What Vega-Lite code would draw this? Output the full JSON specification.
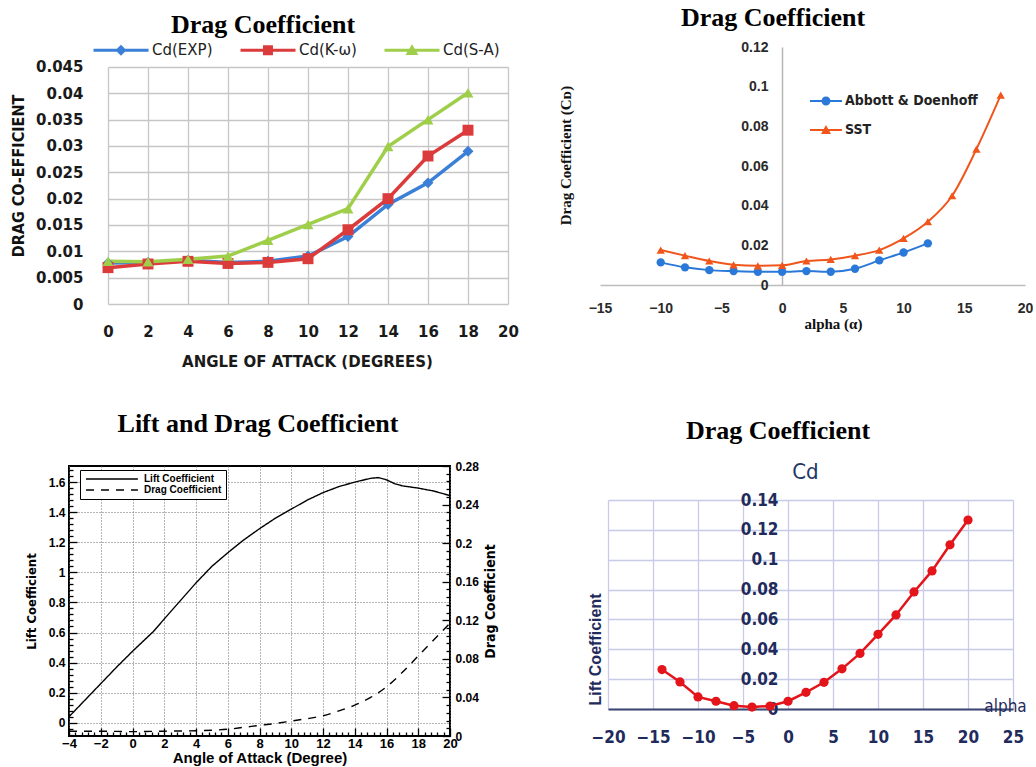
{
  "$schema": "https://vega.github.io/schema/vega-lite/v6.json",
  "background": "white",
  "padding": {"left": 10, "top": 5, "right": 0, "bottom": 0},
  "config": {"view": {"stroke": null}, "axis": {"labelOverlap": false, "labelFlush": false}},
  "datasets": {
    "tl": [
      {"series": "Cd(EXP)", "aoa": 0, "cd": 0.0078}, {"series": "Cd(EXP)", "aoa": 2, "cd": 0.0079}, {"series": "Cd(EXP)", "aoa": 4, "cd": 0.0083}, {"series": "Cd(EXP)", "aoa": 6, "cd": 0.0079}, {"series": "Cd(EXP)", "aoa": 8, "cd": 0.0081}, {"series": "Cd(EXP)", "aoa": 10, "cd": 0.0091}, {"series": "Cd(EXP)", "aoa": 12, "cd": 0.0128}, {"series": "Cd(EXP)", "aoa": 14, "cd": 0.0189}, {"series": "Cd(EXP)", "aoa": 16, "cd": 0.023}, {"series": "Cd(EXP)", "aoa": 18, "cd": 0.029},
      {"series": "Cd(K-ω)", "aoa": 0, "cd": 0.0069}, {"series": "Cd(K-ω)", "aoa": 2, "cd": 0.0076}, {"series": "Cd(K-ω)", "aoa": 4, "cd": 0.0081}, {"series": "Cd(K-ω)", "aoa": 6, "cd": 0.0077}, {"series": "Cd(K-ω)", "aoa": 8, "cd": 0.0079}, {"series": "Cd(K-ω)", "aoa": 10, "cd": 0.0086}, {"series": "Cd(K-ω)", "aoa": 12, "cd": 0.0141}, {"series": "Cd(K-ω)", "aoa": 14, "cd": 0.02}, {"series": "Cd(K-ω)", "aoa": 16, "cd": 0.0281}, {"series": "Cd(K-ω)", "aoa": 18, "cd": 0.033},
      {"series": "Cd(S-A)", "aoa": 0, "cd": 0.0081}, {"series": "Cd(S-A)", "aoa": 2, "cd": 0.008}, {"series": "Cd(S-A)", "aoa": 4, "cd": 0.0085}, {"series": "Cd(S-A)", "aoa": 6, "cd": 0.0091}, {"series": "Cd(S-A)", "aoa": 8, "cd": 0.0121}, {"series": "Cd(S-A)", "aoa": 10, "cd": 0.0151}, {"series": "Cd(S-A)", "aoa": 12, "cd": 0.0181}, {"series": "Cd(S-A)", "aoa": 14, "cd": 0.0299}, {"series": "Cd(S-A)", "aoa": 16, "cd": 0.035}, {"series": "Cd(S-A)", "aoa": 18, "cd": 0.0401}
    ],
    "tr": [
      {"series": "Abbott & Doenhoff", "alpha": -10, "cd": 0.0114}, {"series": "Abbott & Doenhoff", "alpha": -8, "cd": 0.0089}, {"series": "Abbott & Doenhoff", "alpha": -6, "cd": 0.0075}, {"series": "Abbott & Doenhoff", "alpha": -4, "cd": 0.007}, {"series": "Abbott & Doenhoff", "alpha": -2, "cd": 0.0067}, {"series": "Abbott & Doenhoff", "alpha": 0, "cd": 0.0067}, {"series": "Abbott & Doenhoff", "alpha": 2, "cd": 0.007}, {"series": "Abbott & Doenhoff", "alpha": 4, "cd": 0.0067}, {"series": "Abbott & Doenhoff", "alpha": 6, "cd": 0.0082}, {"series": "Abbott & Doenhoff", "alpha": 8, "cd": 0.0124}, {"series": "Abbott & Doenhoff", "alpha": 10, "cd": 0.0164}, {"series": "Abbott & Doenhoff", "alpha": 12, "cd": 0.021},
      {"series": "SST", "alpha": -10, "cd": 0.0176}, {"series": "SST", "alpha": -8, "cd": 0.0148}, {"series": "SST", "alpha": -6, "cd": 0.0121}, {"series": "SST", "alpha": -4, "cd": 0.0102}, {"series": "SST", "alpha": -2, "cd": 0.0097}, {"series": "SST", "alpha": 0, "cd": 0.0099}, {"series": "SST", "alpha": 2, "cd": 0.0121}, {"series": "SST", "alpha": 4, "cd": 0.0129}, {"series": "SST", "alpha": 6, "cd": 0.0148}, {"series": "SST", "alpha": 8, "cd": 0.0176}, {"series": "SST", "alpha": 10, "cd": 0.0235}, {"series": "SST", "alpha": 12, "cd": 0.0319}, {"series": "SST", "alpha": 14, "cd": 0.045}, {"series": "SST", "alpha": 16, "cd": 0.0685}, {"series": "SST", "alpha": 18, "cd": 0.0957}
    ],
    "bl_lift": [
      {"series": "Lift Coefficient", "aoa": -4, "cl": 0.04}, {"series": "Lift Coefficient", "aoa": -3, "cl": 0.15}, {"series": "Lift Coefficient", "aoa": -2, "cl": 0.26}, {"series": "Lift Coefficient", "aoa": -1, "cl": 0.37}, {"series": "Lift Coefficient", "aoa": 0, "cl": 0.475}, {"series": "Lift Coefficient", "aoa": 1, "cl": 0.575}, {"series": "Lift Coefficient", "aoa": 1.3, "cl": 0.605}, {"series": "Lift Coefficient", "aoa": 2, "cl": 0.69}, {"series": "Lift Coefficient", "aoa": 3, "cl": 0.81}, {"series": "Lift Coefficient", "aoa": 4, "cl": 0.93}, {"series": "Lift Coefficient", "aoa": 5, "cl": 1.04}, {"series": "Lift Coefficient", "aoa": 6, "cl": 1.13}, {"series": "Lift Coefficient", "aoa": 7, "cl": 1.215}, {"series": "Lift Coefficient", "aoa": 8, "cl": 1.29}, {"series": "Lift Coefficient", "aoa": 9, "cl": 1.36}, {"series": "Lift Coefficient", "aoa": 10, "cl": 1.42}, {"series": "Lift Coefficient", "aoa": 11, "cl": 1.48}, {"series": "Lift Coefficient", "aoa": 12, "cl": 1.53}, {"series": "Lift Coefficient", "aoa": 13, "cl": 1.57}, {"series": "Lift Coefficient", "aoa": 14, "cl": 1.6}, {"series": "Lift Coefficient", "aoa": 15, "cl": 1.625}, {"series": "Lift Coefficient", "aoa": 15.5, "cl": 1.63}, {"series": "Lift Coefficient", "aoa": 16, "cl": 1.615}, {"series": "Lift Coefficient", "aoa": 16.5, "cl": 1.59}, {"series": "Lift Coefficient", "aoa": 17, "cl": 1.575}, {"series": "Lift Coefficient", "aoa": 18, "cl": 1.56}, {"series": "Lift Coefficient", "aoa": 19, "cl": 1.54}, {"series": "Lift Coefficient", "aoa": 20, "cl": 1.51}
    ],
    "bl_drag": [
      {"series": "Drag Coefficient", "aoa": -4, "cd": 0.005}, {"series": "Drag Coefficient", "aoa": -2, "cd": 0.005}, {"series": "Drag Coefficient", "aoa": 0, "cd": 0.0045}, {"series": "Drag Coefficient", "aoa": 2, "cd": 0.005}, {"series": "Drag Coefficient", "aoa": 4, "cd": 0.0055}, {"series": "Drag Coefficient", "aoa": 6, "cd": 0.007}, {"series": "Drag Coefficient", "aoa": 7, "cd": 0.009}, {"series": "Drag Coefficient", "aoa": 8, "cd": 0.011}, {"series": "Drag Coefficient", "aoa": 9, "cd": 0.013}, {"series": "Drag Coefficient", "aoa": 10, "cd": 0.0155}, {"series": "Drag Coefficient", "aoa": 11, "cd": 0.018}, {"series": "Drag Coefficient", "aoa": 12, "cd": 0.021}, {"series": "Drag Coefficient", "aoa": 13, "cd": 0.026}, {"series": "Drag Coefficient", "aoa": 14, "cd": 0.032}, {"series": "Drag Coefficient", "aoa": 15, "cd": 0.04}, {"series": "Drag Coefficient", "aoa": 16, "cd": 0.051}, {"series": "Drag Coefficient", "aoa": 17, "cd": 0.066}, {"series": "Drag Coefficient", "aoa": 18, "cd": 0.083}, {"series": "Drag Coefficient", "aoa": 19, "cd": 0.1}, {"series": "Drag Coefficient", "aoa": 20, "cd": 0.117}
    ],
    "br": [
      {"alpha": -14, "cd": 0.0264}, {"alpha": -12, "cd": 0.0181}, {"alpha": -10, "cd": 0.0081}, {"alpha": -8, "cd": 0.0052}, {"alpha": -6, "cd": 0.0022}, {"alpha": -4, "cd": 0.0013}, {"alpha": -2, "cd": 0.002}, {"alpha": 0, "cd": 0.0052}, {"alpha": 2, "cd": 0.0112}, {"alpha": 4, "cd": 0.0179}, {"alpha": 6, "cd": 0.0269}, {"alpha": 8, "cd": 0.0372}, {"alpha": 10, "cd": 0.05}, {"alpha": 12, "cd": 0.063}, {"alpha": 14, "cd": 0.0784}, {"alpha": 16, "cd": 0.0925}, {"alpha": 18, "cd": 0.11}, {"alpha": 20, "cd": 0.1266}
    ]
  },
  "resolve": {"scale": {"color": "independent", "fill": "independent", "stroke": "independent", "shape": "independent", "strokeDash": "independent"}},
  "vconcat": [
    {
      "resolve": {"scale": {"color": "independent", "fill": "independent", "stroke": "independent", "shape": "independent", "strokeDash": "independent"}},
      "spacing": 39,
      "hconcat": [
        {
          "width": 439, "height": 257,
          "title": {"text": "Drag Coefficient", "font": "Liberation Serif", "fontSize": 26, "fontWeight": "bold", "color": "#000", "anchor": "middle", "frame": "group", "dx": -25.5, "offset": 4.5},
          "data": {"name": "tl"},
          "encoding": {
            "x": {"field": "aoa", "type": "quantitative", "title": "ANGLE OF ATTACK (DEGREES)", "scale": {"domain": [-1.95, 20], "nice": false, "zero": false},
              "axis": {"values": [0, 2, 4, 6, 8, 10, 12, 14, 16, 18, 20], "grid": false, "domain": false, "ticks": true, "tickSize": -237, "tickColor": "#c6c6c6", "tickWidth": 1.3, "labelPadding": 257, "labelFont": "DejaVu Sans", "labelFontSize": 15, "labelFontWeight": "bold", "labelColor": "#1a1a1a", "labelFlush": false, "labelOverlap": false, "titleFont": "DejaVu Sans", "titleFontSize": 15, "titleFontWeight": "bold", "titleColor": "#1a1a1a", "titleX": 238, "titleY": 50, "titleAlign": "center", "titleBaseline": "top"}},
            "y": {"field": "cd", "type": "quantitative", "title": "DRAG CO-EFFICIENT", "scale": {"domain": [0, 0.048797], "nice": false},
              "axis": {"values": [0, 0.005, 0.01, 0.015, 0.02, 0.025, 0.03, 0.035, 0.04, 0.045], "labelExpr": "format(datum.value, '.3~f')", "offset": -39, "grid": false, "domain": false, "ticks": true, "tickSize": -400, "tickColor": "#c6c6c6", "tickWidth": 1.3, "labelPadding": 425, "labelFont": "DejaVu Sans", "labelFontSize": 15, "labelFontWeight": "bold", "labelColor": "#1a1a1a", "labelOverlap": false, "labelFlush": false, "titleFont": "Liberation Sans Narrow, DejaVu Sans Condensed, Liberation Sans", "titleFontSize": 16, "titleFontWeight": "bold", "titleColor": "#111", "titlePadding": 9.5}}
          },
          "layer": [
            {"mark": {"type": "line", "strokeWidth": 3.5},
              "encoding": {"stroke": {"field": "series", "type": "nominal", "scale": {"range": ["#3b7fd6", "#dc3b3b", "#9fcf4a"]}, "legend": null}}},
            {"mark": {"type": "point", "filled": true, "opacity": 1, "size": 120},
              "encoding": {
                "fill": {"field": "series", "type": "nominal", "scale": {"range": ["#3b7fd6", "#dc3b3b", "#9fcf4a"]}, "legend": null},
                "shape": {"field": "series", "type": "nominal", "scale": {"range": ["diamond", "square", "triangle-up"]}, "legend": null}}},
            {"mark": {"type": "point", "filled": true, "opacity": 0, "size": 10},
              "encoding": {
                "color": {"field": "series", "type": "nominal", "scale": {"domain": ["Cd(EXP)", "Cd(K-ω)", "Cd(S-A)"], "range": ["#3b7fd6", "#dc3b3b", "#9fcf4a"]},
                  "legend": {"orient": "none", "legendX": 23, "legendY": -4.5, "direction": "horizontal", "title": null, "padding": 0, "symbolSize": 144, "symbolStrokeWidth": 0, "symbolOpacity": 1, "labelOffset": 45, "columnPadding": 26, "labelFont": "DejaVu Sans", "labelFontSize": 15, "labelColor": "#222"}},
                "shape": {"field": "series", "type": "nominal", "scale": {"domain": ["Cd(EXP)", "Cd(K-ω)", "Cd(S-A)"], "range": ["M-1,-0.25H8.17V0.25H-1ZM2.66,0L3.58,-0.92L4.5,0L3.58,0.92Z", "M-1,-0.25H8.17V0.25H-1ZM2.75,-0.83H4.41V0.83H2.75Z", "M-1,-0.25H8.17V0.25H-1ZM2.5,0.8L3.58,-1L4.66,0.8Z"]},
                  "legend": {"orient": "none", "legendX": 23, "legendY": -4.5, "direction": "horizontal", "title": null, "padding": 0, "symbolSize": 144, "symbolStrokeWidth": 0, "symbolOpacity": 1, "labelOffset": 45, "columnPadding": 26, "labelFont": "DejaVu Sans", "labelFontSize": 15, "labelColor": "#222"}}
              }}
          ],
          "resolve": {"scale": {"shape": "independent", "color": "independent"}}
        },
        {
          "width": 425, "height": 238,
          "title": {"text": "Drag Coefficient", "font": "Liberation Serif", "fontSize": 26, "fontWeight": "bold", "color": "#000", "anchor": "middle", "frame": "group", "dx": -39.5, "offset": 9},
          "data": {"name": "tr"},
          "encoding": {
            "x": {"field": "alpha", "type": "quantitative", "title": "alpha (α)", "scale": {"domain": [-15, 20], "nice": false},
              "axis": {"values": [-15, -10, -5, 0, 5, 10, 15, 20], "grid": false, "ticks": false, "domainColor": "#bdbdbd", "domainWidth": 1.5, "labelPadding": 16, "labelFont": "Liberation Sans", "labelFontSize": 14, "labelFontWeight": "bold", "labelColor": "#2a2a2a", "labelFlush": false, "labelOverlap": false, "titleFont": "Liberation Serif", "titleFontSize": 15, "titleFontWeight": "bold", "titleColor": "#111", "titleX": 233, "titleY": 31, "titleAlign": "center", "titleBaseline": "top"}},
            "y": {"field": "cd", "type": "quantitative", "title": "Drag Coefficient (Cᴅ)", "scale": {"domain": [0, 0.12], "nice": false},
              "axis": {"values": [0, 0.02, 0.04, 0.06, 0.08, 0.1, 0.12], "labelExpr": "format(datum.value, '.2~f')", "offset": -182, "domain": true, "domainColor": "#b5b5b5", "domainWidth": 1.5, "ticks": false, "grid": false, "labelPadding": 14, "labelFont": "Liberation Sans", "labelFontSize": 14, "labelFontWeight": "bold", "labelColor": "#2a2a2a", "labelFlush": false, "labelOverlap": false, "titleFont": "Liberation Serif", "titleFontSize": 15, "titleFontWeight": "bold", "titleColor": "#111", "titleX": -217, "titleY": 108, "titleAngle": -90, "titleAlign": "center", "titleBaseline": "middle"}}
          },
          "layer": [
            {"mark": {"type": "line", "strokeWidth": 2, "interpolate": "monotone"},
              "encoding": {"stroke": {"field": "series", "type": "nominal", "scale": {"range": ["#2a78d8", "#f0561c"]}, "legend": null}}},
            {"mark": {"type": "point", "filled": true, "opacity": 1, "size": 70},
              "encoding": {
                "fill": {"field": "series", "type": "nominal", "scale": {"range": ["#2a78d8", "#f0561c"]}, "legend": null},
                "shape": {"field": "series", "type": "nominal", "scale": {"range": ["circle", "triangle-up"]}, "legend": null}}},
            {"mark": {"type": "point", "filled": true, "opacity": 0, "size": 10},
              "encoding": {
                "color": {"field": "series", "type": "nominal", "scale": {"domain": ["Abbott & Doenhoff", "SST"], "range": ["#2a78d8", "#f0561c"]},
                  "legend": {"orient": "none", "legendX": 208, "legendY": 47, "direction": "vertical", "title": null, "padding": 0, "symbolSize": 100, "symbolStrokeWidth": 0, "symbolOpacity": 1, "labelOffset": 23, "rowPadding": 15, "labelFont": "Liberation Sans Narrow, DejaVu Sans Condensed, Liberation Sans", "labelFontSize": 14, "labelFontWeight": "bold", "labelColor": "#222"}},
                "shape": {"field": "series", "type": "nominal", "scale": {"domain": ["Abbott & Doenhoff", "SST"], "range": ["M-1,-0.2H5.4V0.2H-1ZM1.3,0A0.9,0.9 0 1,1 3.1,0A0.9,0.9 0 1,1 1.3,0Z", "M-1,-0.2H5.4V0.2H-1ZM1.2,0.8L2.2,-1L3.2,0.8Z"]},
                  "legend": {"orient": "none", "legendX": 208, "legendY": 47, "direction": "vertical", "title": null, "padding": 0, "symbolSize": 100, "symbolStrokeWidth": 0, "symbolOpacity": 1, "labelOffset": 23, "rowPadding": 15, "labelFont": "Liberation Sans Narrow, DejaVu Sans Condensed, Liberation Sans", "labelFontSize": 14, "labelFontWeight": "bold", "labelColor": "#222"}}
              }}
          ],
          "resolve": {"scale": {"shape": "independent", "color": "independent"}}
        }
      ]
    },
    {
      "resolve": {"scale": {"color": "independent", "fill": "independent", "stroke": "independent", "shape": "independent", "strokeDash": "independent"}},
      "spacing": 87,
      "hconcat": [
        {
          "width": 381, "height": 270,
          "view": {"stroke": "#000", "strokeWidth": 2},
          "title": {"text": "Lift and Drag Coefficient", "font": "Liberation Serif", "fontSize": 26, "fontWeight": "bold", "color": "#000", "anchor": "middle", "frame": "group", "dx": -1.5, "offset": 23},
          "encoding": {
            "x": {"field": "aoa", "type": "quantitative", "title": "Angle of Attack (Degree)", "scale": {"domain": [-4, 20], "nice": false},
              "axis": {"values": [-4, -3.6, -3.2, -2.8, -2.4, -2, -1.6, -1.2, -0.8, -0.4, 0, 0.4, 0.8, 1.2, 1.6, 2, 2.4, 2.8, 3.2, 3.6, 4, 4.4, 4.8, 5.2, 5.6, 6, 6.4, 6.8, 7.2, 7.6, 8, 8.4, 8.8, 9.2, 9.6, 10, 10.4, 10.8, 11.2, 11.6, 12, 12.4, 12.8, 13.2, 13.6, 14, 14.4, 14.8, 15.2, 15.6, 16, 16.4, 16.8, 17.2, 17.6, 18, 18.4, 18.8, 19.2, 19.6, 20],
                "labelExpr": "abs(datum.value / 2 - round(datum.value / 2)) < 0.01 ? format(datum.value, 'd') : ''",
                "tickSize": {"condition": {"test": "abs(datum.value / 2 - round(datum.value / 2)) < 0.01", "value": -8}, "value": -4},
                "tickColor": "#000", "tickWidth": 1.3, "domain": false,
                "grid": true, "gridColor": "#6a6a6a", "gridDash": [1, 2], "gridWidth": 1,
                "gridOpacity": {"condition": {"test": "abs(datum.value / 2 - round(datum.value / 2)) < 0.01", "value": 1}, "value": 0},
                "labelPadding": 9, "labelFont": "Liberation Sans", "labelFontSize": 13, "labelFontWeight": "bold", "labelColor": "#000", "labelFlush": false, "labelOverlap": false,
                "titleFont": "Liberation Sans", "titleFontSize": 15, "titleFontWeight": "bold", "titleColor": "#000", "titlePadding": -4}},
            "strokeDash": {"field": "series", "type": "nominal", "scale": {"domain": ["Lift Coefficient", "Drag Coefficient"], "range": [[1, 0], [8, 7]]},
              "legend": {"orient": "none", "legendX": 11, "legendY": 4, "title": null, "padding": 4, "strokeColor": "#000", "fillColor": "#fff", "symbolType": "M-1,0H16.3", "symbolSize": 36, "symbolStrokeWidth": 1.5, "symbolStrokeColor": "#000", "labelOffset": 50, "rowPadding": 1, "labelFont": "Liberation Sans", "labelFontSize": 10, "labelFontWeight": "bold", "labelColor": "#000"}}
          },
          "layer": [
            {"data": {"name": "bl_lift"}, "mark": {"type": "line", "color": "#000", "strokeWidth": 1.4},
              "encoding": {
                "y": {"field": "cl", "type": "quantitative", "title": "Lift Coefficient", "scale": {"domain": [-0.088, 1.707], "nice": false, "zero": false},
                  "axis": {"orient": "left", "values": [-0.08, -0.04, 0, 0.04, 0.08, 0.12, 0.16, 0.2, 0.24, 0.28, 0.32, 0.36, 0.4, 0.44, 0.48, 0.52, 0.56, 0.6, 0.64, 0.68, 0.72, 0.76, 0.8, 0.84, 0.88, 0.92, 0.96, 1, 1.04, 1.08, 1.12, 1.16, 1.2, 1.24, 1.28, 1.32, 1.36, 1.4, 1.44, 1.48, 1.52, 1.56, 1.6, 1.64, 1.68],
                    "labelExpr": "abs(datum.value * 5 - round(datum.value * 5)) < 0.01 ? format(datum.value, '~g') : ''",
                    "tickSize": {"condition": {"test": "abs(datum.value * 5 - round(datum.value * 5)) < 0.01", "value": -8}, "value": -4},
                    "tickColor": "#000", "tickWidth": 1.3, "domain": false,
                    "grid": true, "gridColor": "#6a6a6a", "gridDash": [1, 2], "gridWidth": 1,
                    "gridOpacity": {"condition": {"test": "abs(datum.value * 5 - round(datum.value * 5)) < 0.01", "value": 1}, "value": 0},
                    "labelPadding": 12, "labelFont": "Liberation Sans", "labelFontSize": 12, "labelFontWeight": "bold", "labelColor": "#000", "labelFlush": false, "labelOverlap": false,
                    "titleFont": "Liberation Sans Narrow, DejaVu Sans Condensed, Liberation Sans", "titleFontSize": 13, "titleFontWeight": "bold", "titleColor": "#000", "titlePadding": 10}}
              }},
            {"data": {"name": "bl_drag"}, "mark": {"type": "line", "color": "#000", "strokeWidth": 1.4, "interpolate": "monotone"},
              "encoding": {
                "y": {"field": "cd", "type": "quantitative", "title": "Drag Coefficient", "scale": {"domain": [0, 0.28], "nice": false},
                  "axis": {"orient": "right", "values": [0, 0.008, 0.016, 0.024, 0.032, 0.04, 0.048, 0.056, 0.064, 0.072, 0.08, 0.088, 0.096, 0.104, 0.112, 0.12, 0.128, 0.136, 0.144, 0.152, 0.16, 0.168, 0.176, 0.184, 0.192, 0.2, 0.208, 0.216, 0.224, 0.232, 0.24, 0.248, 0.256, 0.264, 0.272, 0.28],
                    "labelExpr": "abs(datum.value * 25 - round(datum.value * 25)) < 0.01 ? format(datum.value, '~g') : ''",
                    "tickSize": {"condition": {"test": "abs(datum.value * 25 - round(datum.value * 25)) < 0.01", "value": -8}, "value": -4},
                    "tickColor": "#000", "tickWidth": 1.3, "domain": false, "grid": false,
                    "labelPadding": 13, "labelFont": "Liberation Sans", "labelFontSize": 12, "labelFontWeight": "bold", "labelColor": "#000", "labelFlush": false, "labelOverlap": false,
                    "titleFont": "Liberation Sans Narrow, DejaVu Sans Condensed, Liberation Sans", "titleFontSize": 14, "titleFontWeight": "bold", "titleColor": "#000", "titlePadding": 5, "titleAngle": -90, "titleBaseline": "top"}}
              }}
          ],
          "resolve": {"scale": {"y": "independent"}}
        },
        {
          "width": 405, "height": 243,
          "title": {"text": "Drag Coefficient", "font": "Liberation Serif", "fontSize": 26, "fontWeight": "bold", "color": "#000", "anchor": "middle", "frame": "group", "dx": -32.5, "offset": 16},
          "data": {"name": "br"},
          "encoding": {
            "x": {"field": "alpha", "type": "quantitative", "title": "alpha", "scale": {"domain": [-20, 25], "nice": false},
              "axis": {"values": [-20, -15, -10, -5, 0, 5, 10, 15, 20, 25], "grid": false, "ticks": true, "tickSize": -209, "tickColor": "#c7cbe6", "tickWidth": 1.3, "domainColor": "#3d4670", "domainWidth": 2, "labelPadding": 229, "labelFont": "Liberation Sans Narrow, DejaVu Sans Condensed, Liberation Sans", "labelFontSize": 17, "labelFontWeight": "bold", "labelColor": "#1f2b5c", "labelFlush": false, "labelOverlap": false, "titleFont": "Liberation Sans Narrow, DejaVu Sans Condensed, Liberation Sans", "titleFontSize": 17, "titleFontWeight": "normal", "titleColor": "#1f2b5c", "titleX": 397, "titleY": -3, "titleAlign": "center", "titleBaseline": "middle"}},
            "y": {"field": "cd", "type": "quantitative", "title": "Lift Coefficient", "scale": {"domain": [0, 0.16278], "nice": false},
              "axis": {"values": [0, 0.02, 0.04, 0.06, 0.08, 0.1, 0.12, 0.14], "labelExpr": "format(datum.value, '.2~f')", "offset": -180, "domain": false, "ticks": false, "grid": true, "gridColor": "#c7cbe6", "gridWidth": 1.3, "labelPadding": 10, "labelFont": "Liberation Sans Narrow, DejaVu Sans Condensed, Liberation Sans", "labelFontSize": 17, "labelFontWeight": "bold", "labelColor": "#1f2b5c", "labelFlush": false, "labelOverlap": false, "titleFont": "Liberation Sans", "titleFontSize": 16, "titleFontWeight": "bold", "titleColor": "#1f2b5c", "titleX": -193, "titleY": 183, "titleAngle": -90, "titleAlign": "center", "titleBaseline": "middle"}}
          },
          "layer": [
            {"mark": {"type": "line", "color": "#e4141b", "strokeWidth": 2.5}},
            {"mark": {"type": "point", "filled": true, "color": "#e4141b", "size": 85, "opacity": 1},
              "encoding": {
                "x": {"field": "alpha", "type": "quantitative", "title": "Cd",
                  "axis": {"orient": "top", "labels": false, "ticks": false, "domain": false, "grid": false, "titleFont": "Liberation Sans Narrow, DejaVu Sans Condensed, Liberation Sans", "titleFontSize": 22, "titleFontWeight": "normal", "titleColor": "#1f3864", "titleX": 197, "titleY": 5, "titleAlign": "center", "titleBaseline": "middle"}}
              }}
          ],
          "resolve": {"axis": {"x": "independent"}}
        }
      ]
    }
  ],
  "spacing": 41
}
